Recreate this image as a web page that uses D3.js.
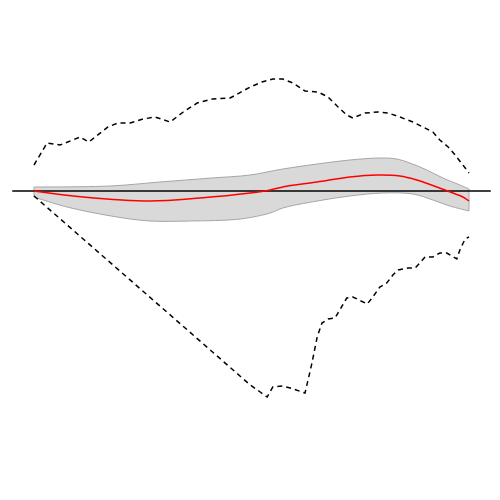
<!DOCTYPE html>
<html><head><meta charset="utf-8">
<script src="https://cdn.jsdelivr.net/npm/d3@7"></script>
<style>body{margin:0;background:#fff}</style>
</head><body>
<svg id="c" width="500" height="500"></svg>
<script>
// Upper dashed envelope
const upperX = [0,3.0,6.0,10.6,12.6,17.0,19.3,22.1,25.1,27.8,31.3,34.3,37.5,41.1,45.1,49.7,52.4,54.9,57.2,59.5,62.3,65.3,67.6,69.9,71.9,73.3,76.1,79.1,81.4,84.1,87.1,89.4,91.7,93.3,95.2,96.8,98.6,100];
const upperY = [2.6,4.8,4.6,5.4,4.9,6.4,6.8,6.8,7.2,7.4,6.9,7.9,8.8,9.2,9.3,10.4,10.9,11.2,11.2,10.8,10.0,9.9,9.4,8.4,7.6,7.3,7.8,7.9,7.8,7.4,6.9,6.4,5.9,5.1,4.4,3.6,2.6,1.8];
// Lower dashed envelope
const lowerX = [0,10,20,30,40,49.7,52.0,53.6,54.9,57.2,58.9,62.3,63.0,63.9,65.1,66.2,67.6,69.2,70.3,71.9,73.3,76.6,77.9,79.5,81.1,82.5,83.7,86.0,87.6,88.7,89.9,91.7,93.3,94.9,97.2,97.9,99.1,100];
const lowerY = [-0.5,-4.3,-8.1,-11.9,-15.7,-19.4,-20.1,-20.6,-19.6,-19.5,-19.7,-20.2,-18.9,-17.2,-14.6,-13.2,-12.8,-12.7,-11.9,-10.7,-10.6,-11.3,-10.6,-9.6,-9.2,-8.4,-7.9,-7.7,-7.7,-7.2,-6.6,-6.6,-6.2,-6.2,-6.8,-5.9,-4.8,-4.6];
// Confidence band
const bandHiX = [0,17.5,29,40.9,49.7,57.2,65.1,72.6,79.5,83.4,86.4,90.3,94.0,97.9,100];
const bandHiY = [0.4,0.5,0.9,1.3,1.6,2.2,2.7,3.1,3.3,3.2,2.8,2.1,1.3,0.6,0.2];
const bandLoX = [0,7.6,19.1,26.7,35.9,47.4,54.3,57.2,65.1,72.6,80.2,87.1,91.7,95.6,100];
const bandLoY = [-0.6,-1.6,-2.6,-3.0,-3.0,-2.8,-2.2,-1.7,-1.0,-0.5,-0.2,-0.3,-0.9,-1.5,-2.0];
// Fitted curve
const fitX = [0,11.3,26.7,38.2,49.7,54.3,57.2,65.1,72.6,78.9,84.1,88.0,92.6,96.3,98.6,100];
const fitY = [0,-0.6,-1.0,-0.7,-0.2,0.1,0.4,0.9,1.4,1.6,1.5,1.1,0.4,-0.2,-0.6,-1.0];
const refX = [-5,105];

const svg = d3.select("#c");
const x = d3.scaleLinear().domain([0,100]).range([34,469]);
const y = d3.scaleLinear().domain([-20,15]).range([391,41]);

const zip = (xs, ys) => xs.map((v,i)=>[v, ys[i]]);
const line = d3.line().x(d=>x(d[0])).y(d=>y(d[1]));
const smooth = d3.line().x(d=>x(d[0])).y(d=>y(d[1])).curve(d3.curveCatmullRom.alpha(0.5));

const hi = zip(bandHiX, bandHiY);
const loRev = zip(bandLoX, bandLoY).reverse();
svg.append("path")
  .attr("d", smooth(hi) + "L" + smooth(loRev).slice(1) + "Z")
  .attr("fill", "#d9d9d9").attr("stroke", "#a6a6a6").attr("stroke-width", 1);

svg.append("path").attr("d", line(refX.map(v=>[v,0])))
  .attr("stroke", "#000").attr("stroke-width", 1.3).attr("fill","none");

svg.append("path").attr("d", smooth(zip(fitX, fitY)))
  .attr("stroke", "#ff0000").attr("stroke-width", 1.5).attr("fill","none");

svg.append("path").attr("d", line(zip(upperX, upperY)))
  .attr("stroke", "#000").attr("stroke-width", 1.5).attr("fill","none").attr("stroke-dasharray","5,4");
svg.append("path").attr("d", line(zip(lowerX, lowerY)))
  .attr("stroke", "#000").attr("stroke-width", 1.5).attr("fill","none").attr("stroke-dasharray","5,4");
</script>
</body></html>
